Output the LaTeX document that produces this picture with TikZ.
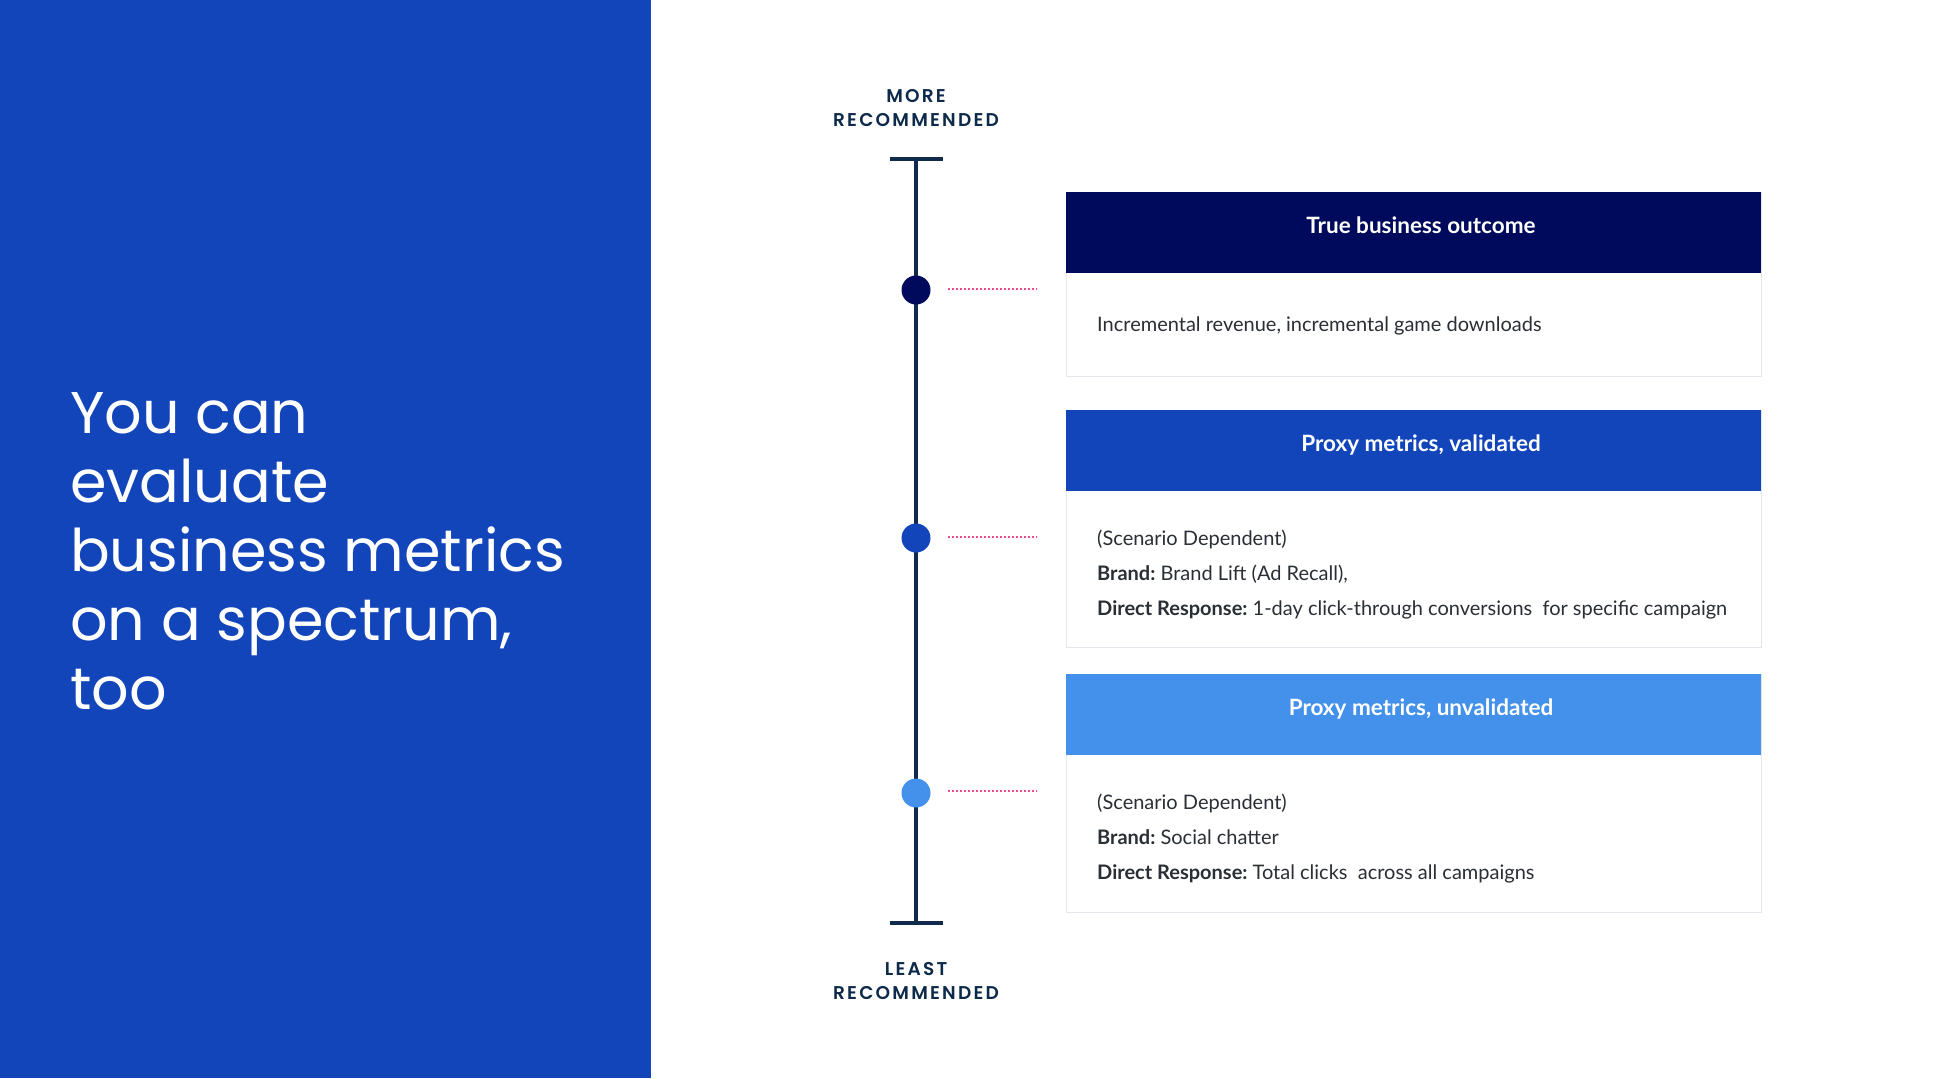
\documentclass[tikz,border=0pt]{standalone}
\usepackage{fontspec}
\setmainfont{Lato}
\newfontfamily\titlefont{Poppins}
\newfontfamily\labelfont[LetterSpace=12]{Poppins SemiBold}
\definecolor{panel}{HTML}{1245BA}
\definecolor{navy}{HTML}{000A5C}
\definecolor{midblue}{HTML}{1245BA}
\definecolor{lightblue}{HTML}{4391EA}
\definecolor{axis}{HTML}{0F2A4A}
\definecolor{pinkdot}{HTML}{E84C8C}
\definecolor{bodytext}{HTML}{2A2E35}
\definecolor{boxborder}{HTML}{E3E6EC}
\definecolor{labeltext}{HTML}{0D2A4A}
\tikzset{
  hdrbox/.style={rectangle, anchor=north west, minimum width=695pt, minimum height=81pt, inner sep=0pt, draw=none},
  bodybox/.style={rectangle, anchor=north west, minimum width=695pt, draw=boxborder, line width=1pt, fill=white, inner sep=0pt},
  hdrtext/.style={text=white, font=\bfseries\fontsize{22.5}{26}\selectfont, inner sep=0pt},
  bodytextstyle/.style={text=bodytext, font=\fontsize{20}{35}\selectfont, anchor=west, align=left, inner sep=0pt},
  dot/.style={circle, minimum size=29pt, inner sep=0pt},
  axisline/.style={draw=axis, line width=3.5pt},
  leader/.style={draw=pinkdot, line width=1.6pt, dash pattern=on 1.6pt off 2.4pt},
  endlabel/.style={text=labeltext, font=\labelfont\fontsize{18.5}{24}\selectfont, align=center, inner sep=0pt}
}
\begin{document}
\begin{tikzpicture}[x=1pt,y=-1pt]
\useasboundingbox (0,0) rectangle (1942,1078);
\fill[panel] (0,0) rectangle (650.6,1078);
\node[anchor=north west, align=left, text=white, inner sep=0pt,
      font=\titlefont\fontsize{58.8}{69}\selectfont] (title) at (70,392)
  {You can\\evaluate\\business metrics\\on a spectrum,\\too};

% axis
\coordinate (top) at (916,159);
\coordinate (bot) at (916,923);
\coordinate (topL) at (890,159);
\coordinate (topR) at (943,159);
\coordinate (botL) at (890,923);
\coordinate (botR) at (943,923);
\draw[axisline] (top) -- (bot);
\draw[axisline] (topL) -- (topR);
\draw[axisline] (botL) -- (botR);

\node[endlabel] (more) at (916,108) {MORE\\RECOMMENDED};
\node[endlabel] (least) at (916,981) {LEAST\\RECOMMENDED};

\node[dot, fill=navy] (d1) at (916,290) {};
\node[dot, fill=midblue] (d2) at (916,538) {};
\node[dot, fill=lightblue] (d3) at (916,793) {};

\coordinate (l1a) at (948,289); \coordinate (l1b) at (1037,289);
\coordinate (l2a) at (948,537); \coordinate (l2b) at (1037,537);
\coordinate (l3a) at (948,791); \coordinate (l3b) at (1037,791);
\draw[leader] (l1a) -- (l1b);
\draw[leader] (l2a) -- (l2b);
\draw[leader] (l3a) -- (l3b);

% box 1
\node[bodybox, minimum height=184pt] (b1) at (1066,192) {};
\node[hdrbox, fill=navy] (h1) at (1066,192) {};
\node[hdrtext] (h1t) at (1421,225) {True business outcome};
\node[bodytextstyle] (t1) at (1097,326) {Incremental revenue, incremental game downloads};

% box 2
\node[bodybox, minimum height=237pt] (b2) at (1066,410) {};
\node[hdrbox, fill=midblue] (h2) at (1066,410) {};
\node[hdrtext] (h2t) at (1421,445) {Proxy metrics, validated};
\node[bodytextstyle] (t2) at (1097,575) {(Scenario Dependent)\\\textbf{Brand:}~Brand Lift (Ad Recall),\\\textbf{Direct Response:}~1-day click-through conversions\ \ for specific campaign};

% box 3
\node[bodybox, minimum height=238pt] (b3) at (1066,674) {};
\node[hdrbox, fill=lightblue] (h3) at (1066,674) {};
\node[hdrtext] (h3t) at (1421,709) {Proxy metrics, unvalidated};
\node[bodytextstyle] (t3) at (1097,839) {(Scenario Dependent)\\\textbf{Brand:}~Social chatter\\\textbf{Direct Response:}~Total clicks\ \ across all campaigns};
\end{tikzpicture}
\end{document}
